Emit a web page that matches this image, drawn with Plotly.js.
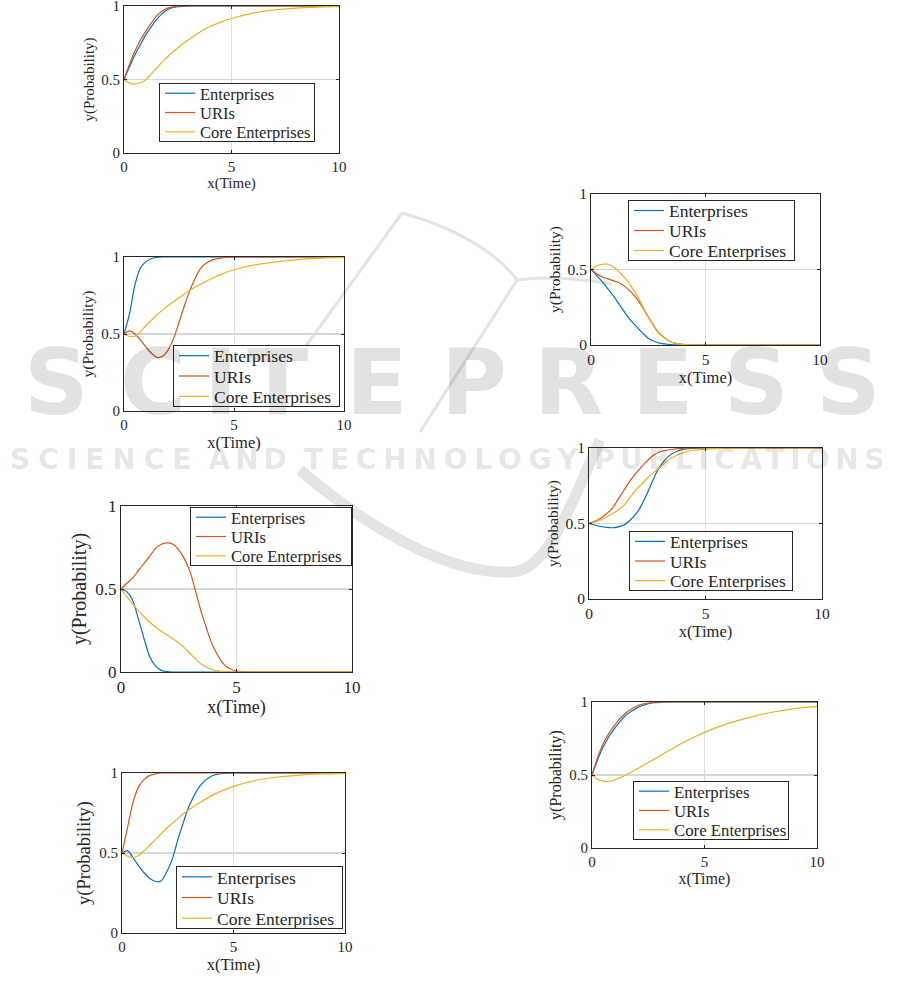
<!DOCTYPE html>
<html><head><meta charset="utf-8">
<script src="https://cdn.plot.ly/plotly-3.0.1.min.js"></script>
<style>html,body{margin:0;padding:0;background:#fff;}#chart{width:901px;height:1003px;}</style>
</head><body><div id="chart"></div>
<script>
// ---------------- data ----------------
const seriesNames = ['Enterprises', 'URIs', 'Core Enterprises'];
const seriesColors = ['#0072BD', '#D95319', '#EDB120'];
const time = [0, 0.25, 0.5, 0.75, 1, 1.25, 1.5, 1.75, 2, 2.25, 2.5, 2.75, 3, 3.5, 4, 4.5, 5, 6, 7, 8, 9, 10];
const xTicks = [0, 5, 10];
const yTicks = [0, 0.5, 1];
const xTitle = 'x(Time)';
const yTitle = 'y(Probability)';

// panel 1 (left, top)
const p1Enterprises = [0.5, 0.585, 0.665, 0.735, 0.80, 0.855, 0.905, 0.945, 0.973, 0.988, 0.995, 0.998, 1, 1, 1, 1, 1, 1, 1, 1, 1, 1];
const p1URIs        = [0.5, 0.60, 0.69, 0.765, 0.826, 0.88, 0.93, 0.962, 0.984, 0.994, 0.998, 1, 1, 1, 1, 1, 1, 1, 1, 1, 1, 1];
const p1Core        = [0.5, 0.476, 0.468, 0.478, 0.497, 0.535, 0.575, 0.615, 0.65, 0.685, 0.715, 0.745, 0.77, 0.82, 0.86, 0.89, 0.915, 0.952, 0.973, 0.986, 0.993, 0.997];
// panel 2 (left, second)
const p2Enterprises = [0.5, 0.63, 0.82, 0.93, 0.97, 0.99, 0.997, 1, 1, 1, 1, 1, 1, 1, 1, 1, 1, 1, 1, 1, 1, 1];
const p2URIs        = [0.5, 0.52, 0.50, 0.46, 0.415, 0.375, 0.348, 0.355, 0.395, 0.47, 0.575, 0.685, 0.785, 0.93, 0.98, 0.995, 1, 1, 1, 1, 1, 1];
const p2Core        = [0.5, 0.484, 0.485, 0.515, 0.555, 0.59, 0.625, 0.655, 0.685, 0.71, 0.735, 0.76, 0.785, 0.825, 0.862, 0.892, 0.917, 0.95, 0.97, 0.985, 0.993, 0.997];
// panel 3 (left, third)
const p3Enterprises = [0.5, 0.484, 0.434, 0.32, 0.20, 0.09, 0.035, 0.01, 0.002, 0, 0, 0, 0, 0, 0, 0, 0, 0, 0, 0, 0, 0];
const p3URIs        = [0.5, 0.535, 0.565, 0.61, 0.655, 0.70, 0.745, 0.77, 0.778, 0.77, 0.735, 0.68, 0.60, 0.35, 0.15, 0.04, 0.005, 0, 0, 0, 0, 0];
const p3Core        = [0.5, 0.454, 0.41, 0.37, 0.333, 0.30, 0.27, 0.245, 0.222, 0.2, 0.175, 0.145, 0.11, 0.045, 0.012, 0.002, 0, 0, 0, 0, 0, 0];
// panel 4 (left, bottom)
const p4Enterprises = [0.5, 0.515, 0.47, 0.42, 0.375, 0.34, 0.322, 0.325, 0.38, 0.46, 0.58, 0.69, 0.79, 0.92, 0.98, 0.997, 1, 1, 1, 1, 1, 1];
const p4URIs        = [0.5, 0.66, 0.82, 0.915, 0.96, 0.985, 0.995, 1, 1, 1, 1, 1, 1, 1, 1, 1, 1, 1, 1, 1, 1, 1];
const p4Core        = [0.5, 0.48, 0.472, 0.485, 0.515, 0.55, 0.585, 0.62, 0.655, 0.685, 0.715, 0.745, 0.77, 0.815, 0.857, 0.89, 0.916, 0.954, 0.975, 0.987, 0.994, 0.998];
// panel 5 (right, top)
const p5Enterprises = [0.5, 0.46, 0.418, 0.37, 0.32, 0.265, 0.21, 0.16, 0.12, 0.08, 0.045, 0.025, 0.013, 0.003, 0, 0, 0, 0, 0, 0, 0, 0];
const p5URIs        = [0.5, 0.47, 0.45, 0.438, 0.425, 0.41, 0.385, 0.35, 0.307, 0.25, 0.186, 0.125, 0.075, 0.02, 0.004, 0, 0, 0, 0, 0, 0, 0];
const p5Core        = [0.5, 0.525, 0.535, 0.535, 0.515, 0.48, 0.44, 0.39, 0.33, 0.26, 0.186, 0.12, 0.07, 0.02, 0.004, 0, 0, 0, 0, 0, 0, 0];
// panel 6 (right, middle)
const p6Enterprises = [0.5, 0.49, 0.48, 0.474, 0.472, 0.478, 0.49, 0.52, 0.56, 0.62, 0.70, 0.79, 0.867, 0.956, 0.99, 0.998, 1, 1, 1, 1, 1, 1];
const p6URIs        = [0.5, 0.515, 0.535, 0.565, 0.60, 0.66, 0.72, 0.78, 0.83, 0.875, 0.915, 0.95, 0.972, 0.99, 0.997, 1, 1, 1, 1, 1, 1, 1];
const p6Core        = [0.5, 0.51, 0.524, 0.543, 0.564, 0.59, 0.62, 0.67, 0.72, 0.76, 0.80, 0.835, 0.867, 0.93, 0.967, 0.985, 0.993, 0.999, 1, 1, 1, 1];
// panel 7 (right, bottom)
const p7Enterprises = [0.5, 0.605, 0.693, 0.762, 0.818, 0.868, 0.909, 0.937, 0.96, 0.976, 0.989, 0.995, 0.998, 1, 1, 1, 1, 1, 1, 1, 1, 1];
const p7URIs        = [0.5, 0.62, 0.716, 0.785, 0.84, 0.888, 0.925, 0.952, 0.973, 0.985, 0.993, 0.997, 1, 1, 1, 1, 1, 1, 1, 1, 1, 1];
const p7Core        = [0.5, 0.47, 0.458, 0.456, 0.466, 0.482, 0.50, 0.52, 0.541, 0.563, 0.585, 0.607, 0.63, 0.675, 0.718, 0.757, 0.792, 0.85, 0.895, 0.93, 0.955, 0.97];

const watermarkBig = 'SCITEPRESS';
const watermarkSmall = ['SCIENCE', 'AND', 'TECHNOLOGY', 'PUBLICATIONS'];

// ---------------- layout ----------------
const W = 901, H = 1003;
const FONT = 'Liberation Serif, Times New Roman, serif';
const INK = '#262626';

const panels = [
  {series: [p1Enterprises, p1URIs, p1Core], px: [124, 339], py: [6, 153],   tick: 15, xt: 15, yt: 15, leg: 16.5, box: [159, 83, 315, 142]},
  {series: [p2Enterprises, p2URIs, p2Core], px: [124, 344], py: [257, 411], tick: 15, xt: 16.5, yt: 15.5, leg: 17.5, box: [173, 345, 340, 407]},
  {series: [p3Enterprises, p3URIs, p3Core], px: [121, 352], py: [506, 672], tick: 17, xt: 18, yt: 20, leg: 16.5, box: [190, 507, 352, 566]},
  {series: [p4Enterprises, p4URIs, p4Core], px: [122, 345], py: [773, 933], tick: 15, xt: 16.5, yt: 18.5, leg: 17.5, box: [176, 866, 343, 929]},
  {series: [p5Enterprises, p5URIs, p5Core], px: [591, 820], py: [194, 345], tick: 15.5, xt: 16.5, yt: 15.5, leg: 17.5, box: [628, 200, 795, 261]},
  {series: [p6Enterprises, p6URIs, p6Core], px: [589, 822], py: [448, 599], tick: 15.5, xt: 16.5, yt: 15.5, leg: 17.3, box: [629, 531, 793, 591]},
  {series: [p7Enterprises, p7URIs, p7Core], px: [592, 817], py: [702, 848], tick: 15, xt: 16, yt: 16, leg: 16.8, box: [633, 781, 789, 840]}
];

const traces = [];
const layout = {
  width: W, height: H,
  margin: {l: 0, r: 0, t: 0, b: 0},
  paper_bgcolor: '#ffffff',
  plot_bgcolor: 'rgba(0,0,0,0)',
  showlegend: true,
  annotations: [],
  shapes: []
};

function axisCommon(p) {
  return {
    showline: true, linecolor: INK, linewidth: 1, mirror: 'ticks',
    ticks: 'inside', ticklen: 3, tickcolor: INK, tickwidth: 1,
    showgrid: true, gridcolor: '#dedede', gridwidth: 1, zeroline: false,
    fixedrange: true, automargin: false, ticklabeloverflow: 'allow',
    tickfont: {family: FONT, size: p.tick, color: INK}
  };
}

panels.forEach((p, i) => {
  const n = i === 0 ? '' : String(i + 1);
  const lg = 'legend' + n;
  p.series.forEach((vals, k) => {
    traces.push({
      type: 'scatter', mode: 'lines',
      x: time, y: vals,
      name: seriesNames[k],
      xaxis: 'x' + n, yaxis: 'y' + n,
      legend: lg,
      line: {color: seriesColors[k], width: 1.2, shape: 'spline', smoothing: 0.8},
      hoverinfo: 'x+y+name'
    });
  });
  layout['xaxis' + n] = Object.assign(axisCommon(p), {
    domain: [p.px[0] / W, p.px[1] / W], anchor: 'y' + n,
    range: [0, 10], tickmode: 'array', tickvals: xTicks,
    title: {text: xTitle, font: {family: FONT, size: p.xt, color: INK}, standoff: 3}
  });
  layout['yaxis' + n] = Object.assign(axisCommon(p), {
    domain: [1 - p.py[1] / H, 1 - p.py[0] / H], anchor: 'x' + n,
    range: [0, 1], tickmode: 'array', tickvals: yTicks,
    gridcolor: '#d6d6d6', gridwidth: 1.3,
    title: {text: yTitle, font: {family: FONT, size: p.yt, color: INK}, standoff: 3}
  });
  const b = p.box;
  layout[lg] = {
    x: b[0] / W, y: 1 - b[1] / H, xanchor: 'left', yanchor: 'top',
    xref: 'paper', yref: 'paper',
    bgcolor: '#ffffff', bordercolor: INK, borderwidth: 1,
    font: {family: FONT, size: p.leg, color: INK},
    tracegroupgap: 0, itemwidth: 30
  };
});

// ---------------- watermark ----------------
const WM = 'rgba(0,0,0,0.115)';
const bigCenters = [56, 153, 221, 277, 376, 474, 568, 662, 756, 848];
watermarkBig.split('').forEach((ch, k) => {
  layout.annotations.push({
    text: ch, x: bigCenters[k] / W, y: 1 - 383 / H, xref: 'paper', yref: 'paper',
    xanchor: 'center', yanchor: 'middle', showarrow: false,
    font: {family: 'DejaVu Sans', size: 90, color: WM, weight: 'bold'}
  });
});
const smallCenters = [104, 250, 444, 742];
watermarkSmall.forEach((w, k) => {
  layout.annotations.push({
    text: w, x: smallCenters[k] / W, y: 1 - 459 / H, xref: 'paper', yref: 'paper',
    xanchor: 'center', yanchor: 'middle', showarrow: false,
    font: {family: 'DejaVu Sans', size: 28, color: WM, weight: 'bold'}
  });
});
function toPaper(s) {
  return s.replace(/(-?\d+\.?\d*),(-?\d+\.?\d*)/g, (m, a, b) => (a / W).toFixed(5) + ',' + (1 - b / H).toFixed(5));
}
const logoColor = '#e4e4e4';
[
  ['M 290,368 L 402,213', 3],
  ['M 402,213 C 450,226 495,250 517,280', 3],
  ['M 517,280 C 545,276 575,278 612,284', 3],
  ['M 517,280 L 420,432', 3],
  ['M 300,470 C 370,530 450,575 512,572 C 545,570 565,520 600,440', 11]
].forEach(([d, w]) => {
  layout.shapes.push({type: 'path', xref: 'paper', yref: 'paper', layer: 'below',
    path: toPaper(d), line: {color: logoColor, width: w}});
});

function fitLegends(gd) {
  panels.forEach((p, i) => {
    const id = i === 0 ? 'legend' : 'legend' + (i + 1);
    const g = gd.querySelector('g.' + id);
    if (!g) return;
    const [l, t, r, bt] = p.box;
    const w = r - l, h = bt - t;
    g.setAttribute('transform', 'translate(' + l + ',' + t + ')');
    const bg = g.querySelector('rect.bg');
    if (bg) {
      bg.setAttribute('x', 0.5); bg.setAttribute('y', 0.5);
      bg.setAttribute('width', w - 1); bg.setAttribute('height', h - 1);
    }
    const items = g.querySelectorAll('g.traces');
    const pitch = (h - 1) / items.length;
    items.forEach((it, k) => {
      const m = /translate\(\s*([-\d.]+)/.exec(it.getAttribute('transform') || '');
      const x0 = m ? parseFloat(m[1]) : 1;
      it.setAttribute('transform', 'translate(' + x0 + ',' + (0.5 + pitch * (k + 0.5)).toFixed(2) + ')');
    });
    g.querySelectorAll('clipPath rect, defs rect').forEach(rc => { rc.setAttribute('width', w); rc.setAttribute('height', h); });
  });
}

Plotly.newPlot('chart', traces, layout, {staticPlot: true, displayModeBar: false}).then(gd => {
  const spacing = {SCIENCE: 8, AND: 5, TECHNOLOGY: 6.8, PUBLICATIONS: 5.5};
  gd.querySelectorAll('.annotation-text').forEach(t => {
    const s = spacing[t.textContent];
    if (s) t.setAttribute('letter-spacing', s);
  });
  fitLegends(gd);
});
</script>
</body></html>
